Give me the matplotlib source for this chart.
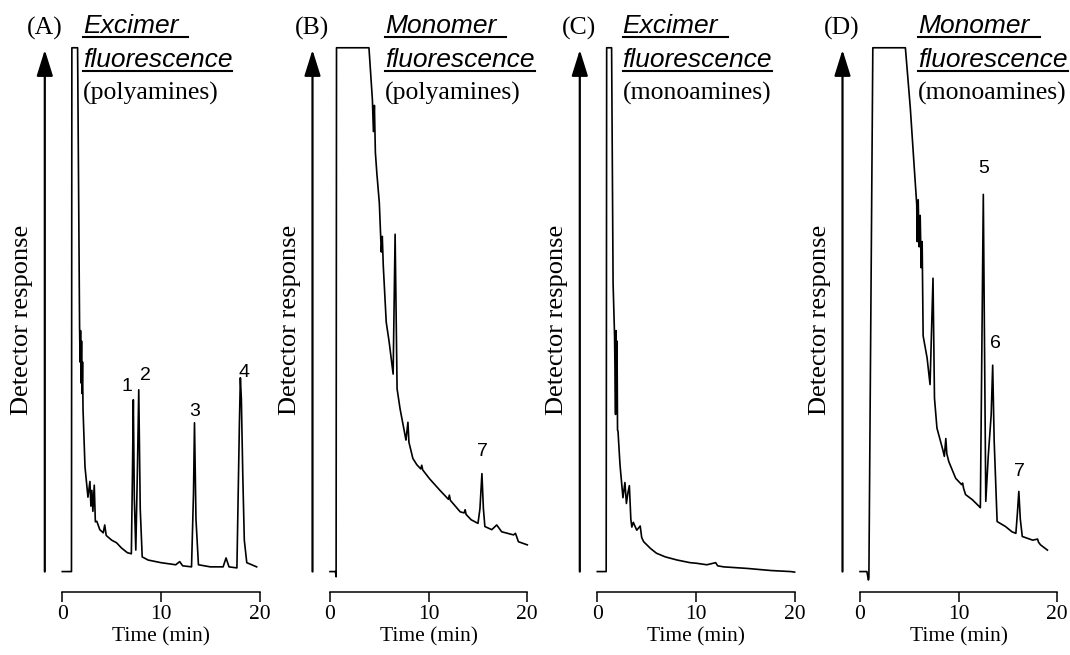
import matplotlib
matplotlib.use('Agg')
import matplotlib.pyplot as plt
import matplotlib.transforms as mtransforms
from matplotlib.lines import Line2D

plt.rcParams['font.family'] = 'Liberation Serif'

W, H = 1070, 655   # figure size in pixels

# chromatograms: time (min) and detector response (% of the clipped top)
time_a = [0, 0.93, 0.97, 1.55, 1.75, 1.8, 1.85, 1.9, 1.95, 2.0, 2.05, 2.1, 2.3, 2.6, 2.8,
          2.9, 3.0, 3.1, 3.24, 3.35, 3.5, 3.8, 4.15, 4.3, 4.45, 5.0, 5.5, 6.0, 6.6, 7.0,
          7.12, 7.2, 7.3, 7.45, 7.62, 7.75, 7.9, 8.1, 8.7, 10.0, 11.5, 11.9, 12.2, 13.1,
          13.3, 13.4, 13.55, 13.8, 15.0, 16.3, 16.6, 16.9, 17.7, 17.95, 18.05, 18.15, 18.3,
          18.45, 18.7, 19.7]
resp_a = [0, 0, 100, 100, 47, 40, 46, 36, 44, 34, 40, 31, 20, 14.2, 17.2,
          12.5, 15.5, 11.5, 16.5, 9.5, 9.6, 8.0, 7.4, 8.9, 6.9, 6.0, 5.5, 4.5, 3.6, 3.4,
          20, 32.8, 14, 4.1, 20, 34.7, 12, 2.8, 2.2, 1.7, 1.3, 1.9, 1.1, 0.9,
          15, 28.4, 10, 1.3, 0.9, 0.9, 2.6, 0.9, 0.7, 28, 37.0, 33, 18,
          6, 1.7, 0.9]

time_b = [0, 0.55, 0.62, 0.66, 3.95, 4.3, 4.4, 4.5, 4.6, 4.75, 5.0, 5.2, 5.3, 5.4, 5.7,
          6.0, 6.4, 6.6, 6.8, 7.1, 7.6, 7.7, 7.9, 8.0, 8.4, 8.8, 9.2, 9.3, 9.4, 10.1,
          11.1, 12.0, 12.1, 12.2, 13.2, 13.6, 13.7, 13.8, 14.3, 15.0, 15.2, 15.4, 15.55,
          15.7, 16.4, 16.9, 17.4, 18.6, 18.8, 19.1, 20.0]
resp_b = [0, 0, -1, 100, 100, 90, 84, 89, 80, 76, 70.4, 61, 64, 58.4, 47.6,
          43.8, 37.7, 64.4, 34.9, 31.1, 26.1, 25.1, 28.5, 24.7, 21.6, 20.4, 19.6, 20.3, 19.4, 17.7,
          15.6, 13.8, 14.6, 13.6, 11.4, 11.2, 11.8, 10.9, 9.9, 9.2, 12, 18.7, 12,
          8.6, 8.0, 8.9, 7.6, 7.0, 7.3, 5.7, 5.1]

time_c = [0, 0.9, 0.95, 1.45, 1.6, 1.75, 1.85, 1.9, 1.95, 2.0, 2.05, 2.1, 2.3, 2.6, 2.8,
          2.95, 3.1, 3.25, 3.4, 3.5, 3.65, 4.0, 4.35, 4.5, 4.7, 5.4, 6.0, 6.9, 8.1, 9.4,
          10.0, 11.1, 12.0, 12.2, 12.8, 15.2, 17.6, 19.6, 20.0]
resp_c = [0, 0, 100, 100, 55, 45, 30, 46, 33, 44, 27, 26.8, 20.4, 14.1, 17,
          13, 15, 16.4, 10, 8.5, 9.4, 7.9, 8.7, 6.5, 5.7, 4.4, 3.5, 2.8, 2.2, 1.7,
          1.6, 1.3, 1.7, 1.1, 0.9, 0.6, 0.2, 0, -0.1]

time_d = [0, 0.7, 0.85, 0.9, 1.3, 4.6, 5.1, 5.5, 5.75, 5.8, 5.9, 6.0, 6.1, 6.2, 6.3,
          6.4, 6.8, 7.1, 7.4, 7.55, 7.8, 8.4, 8.55, 8.7, 8.8, 9.0, 9.7, 10.3, 10.4, 10.5,
          10.7, 11.4, 12.1, 12.2, 12.5, 12.75, 13.0, 13.15, 13.3, 13.45, 13.6, 13.9, 14.75,
          15.4, 15.8, 15.95, 16.1, 16.25, 16.45, 17.5, 18.0, 18.1, 18.3, 19.0]
resp_d = [0, 0, -1.6, -1.2, 100, 100, 88.5, 77.1, 70.1, 63, 71, 62, 68, 58, 63,
          45, 40.8, 35.7, 56, 33.1, 27.4, 23.2, 22, 25.4, 22.5, 21, 17.8, 16.6, 16.9, 15.9,
          14.7, 13.7, 12.4, 12.2, 72, 13.4, 22, 26, 30, 39.4, 25, 9.55, 8.6,
          7.6, 7.3, 11, 15.3, 10, 6.7, 6.0, 6.2, 5.6, 5.1, 4.1]

# peak numbers (label, time, response)
peaks_a = [('1', 6.53, 35.3), ('2', 8.39, 37.5), ('3', 13.45, 30.5), ('4', 18.42, 38.0)]
peaks_b = [('7', 15.48, 22.9)]
peaks_c = []
peaks_d = [('5', 12.54, 77.0), ('6', 13.73, 43.6), ('7', 16.17, 19.1)]

panel_tags = ['(A)', '(B)', '(C)', '(D)']
modes = ['Excimer', 'Monomer', 'Excimer', 'Monomer']
analytes = ['(polyamines)', '(polyamines)', '(monoamines)', '(monoamines)']
x_ticks = [0, 10, 20]

traces = [(time_a, resp_a, peaks_a), (time_b, resp_b, peaks_b),
          (time_c, resp_c, peaks_c), (time_d, resp_d, peaks_d)]

# layout in pixels
lefts = [62.3, 330, 597.3, 860]
ax_w = 197.3
ax_bottom, ax_top = 592, 42
head_x = [82.7, 385, 622.5, 918.3]

fig = plt.figure(figsize=(W / 100, H / 100), dpi=100)

head_texts = []
for i, (t, r, pk) in enumerate(traces):
    ax = fig.add_axes([lefts[i] / W, (H - ax_bottom) / H, ax_w / W, (ax_bottom - ax_top) / H])
    ax.plot(t, r, color='black', lw=1.2, clip_on=False)
    ax.set_xlim(0, 20)
    ax.set_ylim(-3.9, 101.1)
    for s in ['top', 'right', 'left']:
        ax.spines[s].set_visible(False)
    ax.spines['bottom'].set_bounds(0, 20)
    ax.spines['bottom'].set_linewidth(1.1)
    ax.set_yticks([])
    ax.set_xticks(x_ticks)
    ax.tick_params(axis='x', direction='out', length=7.5, width=1.1, pad=2, labelsize=15.5)
    ax.set_xlabel('Time (min)', fontsize=15.5, labelpad=2)
    ax.patch.set_visible(False)

    # upward arrow on the left
    trans = mtransforms.blended_transform_factory(ax.transAxes, ax.transData)
    ax_x = -17.5 / ax_w
    ax.annotate('', xy=(ax_x, 99.6), xytext=(ax_x, 0), xycoords=trans, textcoords=trans,
                annotation_clip=False,
                arrowprops=dict(arrowstyle='-|>,head_length=0.8,head_width=0.25',
                                color='black', lw=1.6, mutation_scale=20,
                                shrinkA=0, shrinkB=0))
    ax.text(-40 / ax_w, 0.495, 'Detector response', transform=ax.transAxes,
            rotation=90, ha='center', va='center', fontsize=19)

    for lab, pt, pv in pk:
        ax.text(pt, pv, lab, ha='center', va='center', fontsize=14, family='Liberation Sans')

    # panel header
    fig.text((lefts[i] - 18) / W, (H - 35) / H, panel_tags[i], ha='center', va='baseline',
             fontsize=18.5)
    t1 = fig.text(head_x[i] / W, (H - 33) / H, modes[i], ha='left', va='baseline',
                  fontsize=19, family='Liberation Sans', style='italic')
    t2 = fig.text(head_x[i] / W, (H - 67) / H, 'fluorescence', ha='left', va='baseline',
                  fontsize=19, family='Liberation Sans', style='italic')
    fig.text(head_x[i] / W, (H - 100) / H, analytes[i], ha='left', va='baseline',
             fontsize=18.5)
    head_texts.append((t1, 33, 10))
    head_texts.append((t2, 67, 0))

# underline the italic header words
fig.canvas.draw()
renderer = fig.canvas.get_renderer()
for txt, base, extra in head_texts:
    bb = txt.get_window_extent(renderer)
    y = (H - (base + 4)) / H
    fig.add_artist(Line2D([bb.x0 / W, (bb.x1 + extra) / W], [y, y],
                          transform=fig.transFigure, color='black', lw=1.5))

fig.savefig('out.png', dpi=100)
